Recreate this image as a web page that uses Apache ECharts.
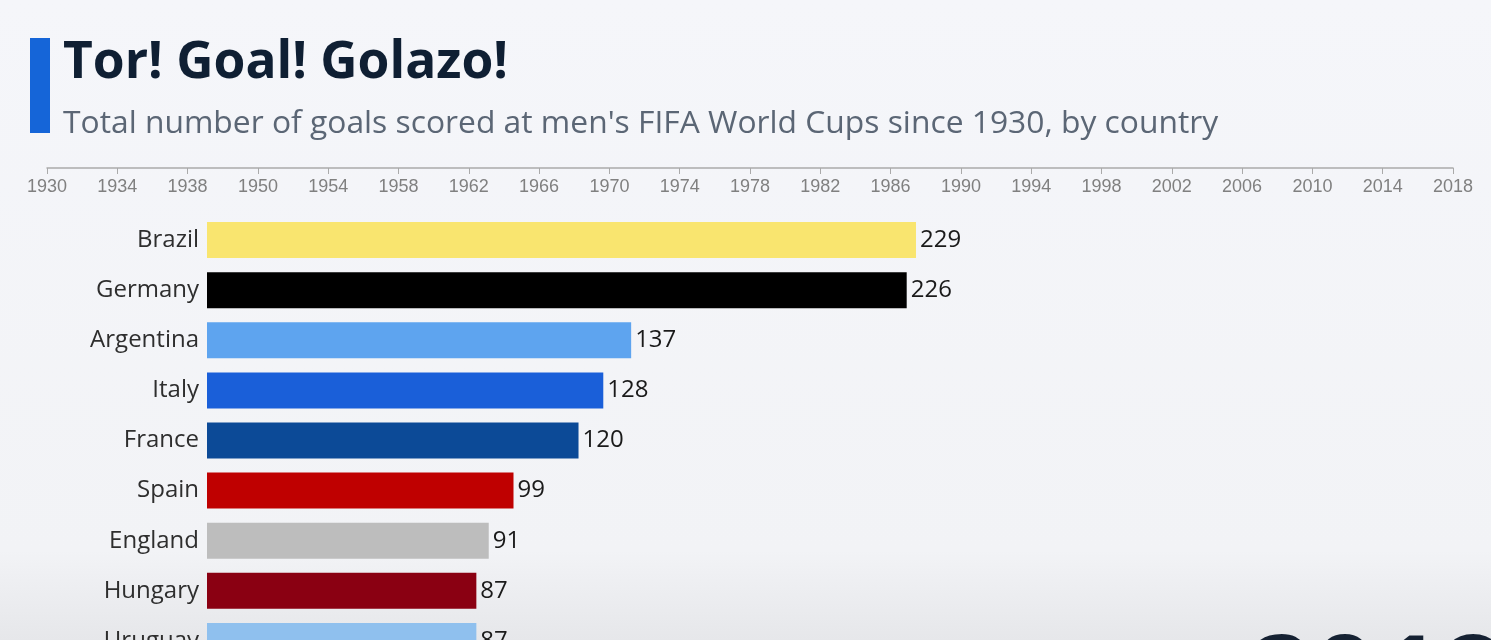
<!DOCTYPE html>
<html>
<head>
<meta charset="utf-8">
<script src="https://cdn.jsdelivr.net/npm/echarts@6/dist/echarts.min.js"></script>
<style>
html,body{margin:0;padding:0;width:1491px;height:640px;overflow:hidden;}
#c{width:1491px;height:640px;}
</style>
</head>
<body>
<div id="c"></div>
<script>
const countries = ["Brazil","Germany","Argentina","Italy","France","Spain","England","Hungary","Uruguay"];
const goals = [229,226,137,128,120,99,91,87,87];
const barColors = ["#f9e56f","#000000","#5ea4ef","#1a5fd9","#0c4a97","#bf0000","#bdbdbd","#8a0012","#8fc0ee"];
const years = ["1930","1934","1938","1950","1954","1958","1962","1966","1970","1974","1978","1982","1986","1990","1994","1998","2002","2006","2010","2014","2018"];
const currentYear = "2018";
const titleText = "Tor! Goal! Golazo!";
const subtitleText = "Total number of goals scored at men's FIFA World Cups since 1930, by country";

const chart = echarts.init(document.getElementById('c'));
chart.setOption({
  animation: false,
  backgroundColor: {
    type: 'linear', x: 0, y: 0, x2: 0, y2: 1,
    colorStops: [
      {offset: 0, color: '#f5f6fa'},
      {offset: 0.86, color: '#f2f3f6'},
      {offset: 1, color: '#e6e7ea'}
    ]
  },
  graphic: [
    {type: 'rect', left: 30, top: 38, shape: {width: 20, height: 95}, style: {fill: '#1565d8'}},
    {type: 'text', x: 63, y: 63, style: {text: titleText, fill: '#0f1f33', font: 'bold 51.5px "Open Sans"', verticalAlign: 'middle'}},
    {type: 'text', x: 63, y: 124, style: {text: subtitleText, fill: '#5b6675', font: '31.8px "Open Sans"', verticalAlign: 'middle'}},
    {type: 'text', x: 1249, y: 627, style: {text: currentYear, fill: '#162233', font: 'bold 112px "Open Sans"', verticalAlign: 'top'}}
  ],
  grid: [
    {left: 207, top: 215, width: 774, height: 451, outerBoundsMode: 'none', containLabel: false},
    {left: 47, top: 160, width: 1406, height: 8, outerBoundsMode: 'none'}
  ],
  xAxis: [
    {gridIndex: 0, type: 'value', min: 0, max: 250, show: false},
    {gridIndex: 1, type: 'category', data: years, boundaryGap: false, position: 'bottom',
     axisLine: {show: true, lineStyle: {color: '#aaaaaa', width: 1.5}},
     axisTick: {show: true, length: 6, lineStyle: {color: '#aaaaaa'}},
     axisLabel: {color: '#808080', fontSize: 18, fontFamily: '"Liberation Sans Narrow", "Liberation Sans", sans-serif', margin: 10, interval: 0},
     splitLine: {show: false}}
  ],
  yAxis: [
    {gridIndex: 0, type: 'category', data: countries, inverse: true,
     axisLine: {show: false}, axisTick: {show: false},
     axisLabel: {color: '#2e2e2e', fontSize: 24, fontFamily: '"Open Sans"', margin: 8}},
    {gridIndex: 1, type: 'value', show: false}
  ],
  series: [
    {type: 'bar', xAxisIndex: 0, yAxisIndex: 0, barWidth: 36,
     data: goals.map((v, i) => ({value: v, itemStyle: {color: barColors[i]}})),
     label: {show: true, position: 'right', distance: 4, color: '#1a1a1a', fontSize: 24, fontFamily: '"Open Sans"'}}
  ]
});
</script>
</body>
</html>
